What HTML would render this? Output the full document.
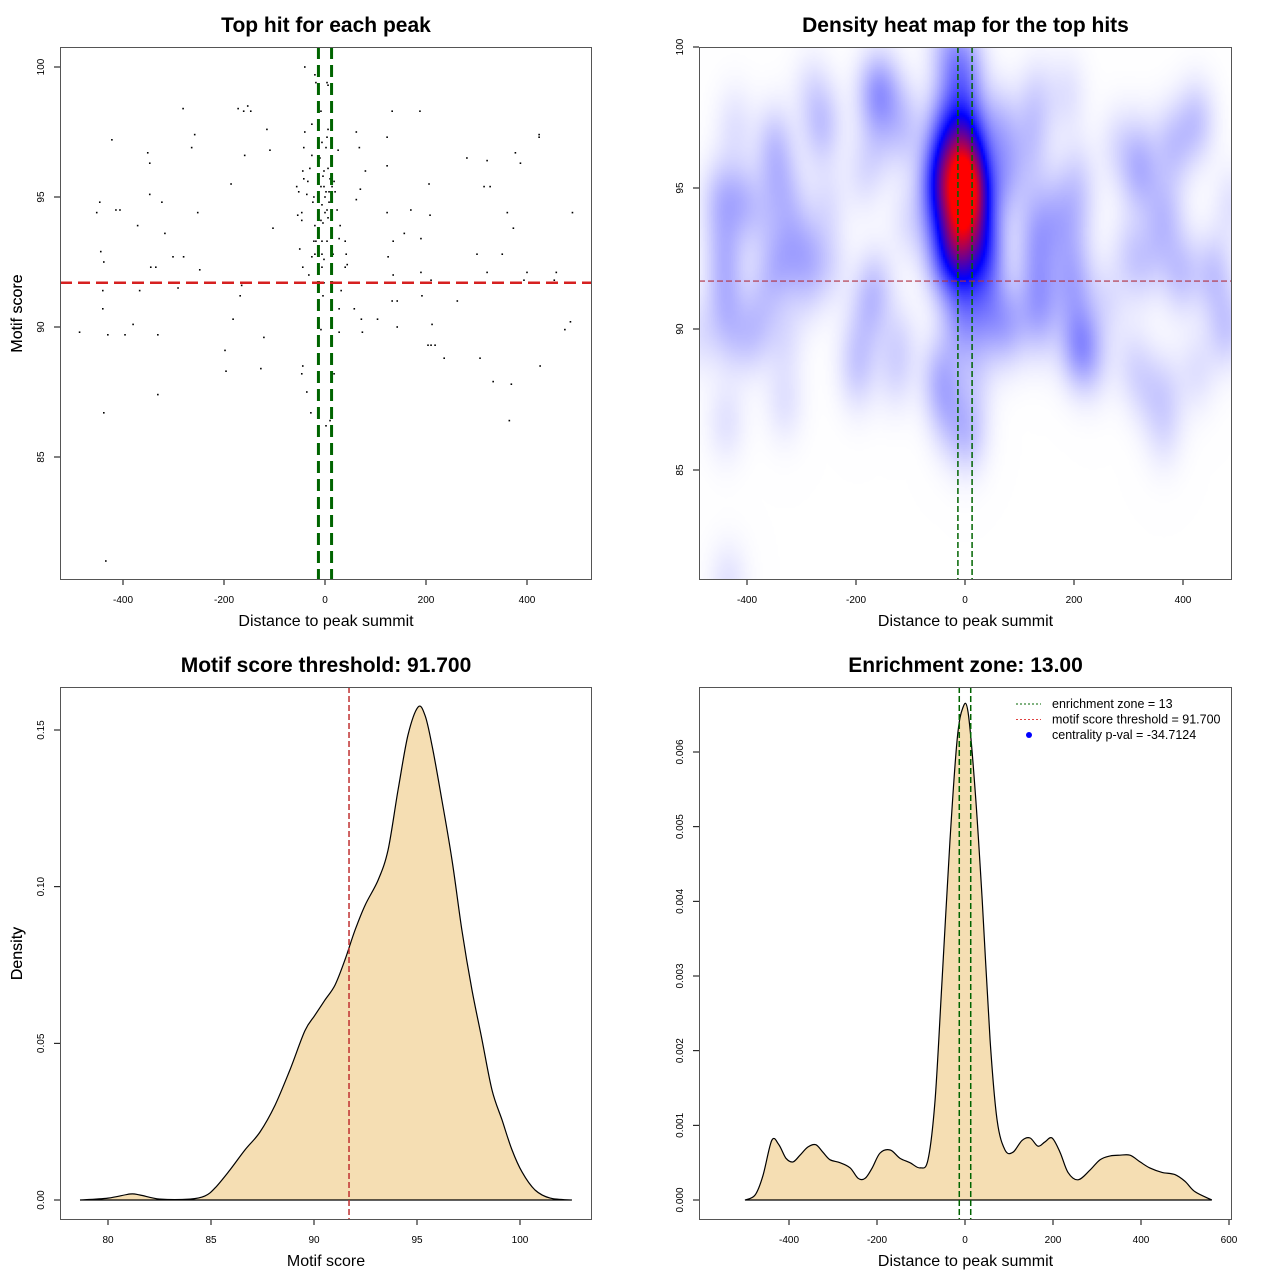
<!DOCTYPE html>
<html><head><meta charset="utf-8">
<style>
html,body{margin:0;padding:0;background:#fff;}
#wrap{position:relative;width:1280px;height:1280px;font-family:"Liberation Sans",sans-serif;}
#heat{position:absolute;left:699px;top:47px;width:533px;height:533px;}
#svg{position:absolute;left:0;top:0;}
</style></head>
<body>
<div id="wrap">
<canvas id="heat" width="533" height="533"></canvas>
<svg id="svg" width="1280" height="1280" xmlns="http://www.w3.org/2000/svg"></svg>
</div>
<script>
// ---- data ----
const hitDist = [-486,-452,-446,-444,-440,-438,-440,-438,-430,-434,-422,-414,-406,-396,-380,-371,-367,-351,-347,-347,-345,-335,-331,-331,-323,-317,-301,-291,-280,-281,-264,-258,-252,-248,-198,-196,-186,-182,-172,-168,-165,-159,-161,-153,-147,-127,-121,-115,-109,-103,
-40,-20,-18,4,6,-8,-26,6,-40,4,-6,-42,2,26,-26,-10,-44,-30,6,-2,-42,-34,-4,10,18,-56,-8,-2,14,-52,-36,2,8,20,-22,0,-24,8,-6,4,14,24,-46,-54,0,-46,-8,6,-20,-4,30,-22,-18,-6,4,-50,-20,-26,-6,-2,16,-44,-6,-32,-2,-4,32,-8,-14,-44,-46,-36,-28,10,2,18,28,40,40,44,42,
62,68,80,70,62,28,58,72,28,74,104,133,188,123,123,123,170,208,206,157,135,190,125,135,190,210,133,143,192,262,143,212,204,210,218,236,307,281,321,315,327,377,387,424,424,361,490,373,301,351,321,400,458,394,454,486,475,426,333,369,365];
const hitScore = [89.8,94.4,94.8,92.9,91.4,92.5,90.7,86.7,89.7,81.0,97.2,94.5,94.5,89.7,90.1,93.9,91.4,96.7,96.3,95.1,92.3,92.3,89.7,87.4,94.8,93.6,92.7,91.5,92.7,98.4,96.9,97.4,94.4,92.2,89.1,88.3,95.5,90.3,98.4,91.2,91.6,96.6,98.3,98.5,98.3,88.4,89.6,97.6,96.8,93.8,
100,99.7,99.4,99.4,99.3,98.3,97.8,97.6,97.5,97.3,97.1,96.9,96.9,96.8,96.6,96.5,96.0,96.1,96.1,96.0,95.7,95.6,95.8,95.7,95.6,95.4,95.4,95.4,95.4,95.2,95.1,95.2,95.2,95.2,95.0,95.0,94.8,94.8,94.7,94.5,94.5,94.5,94.4,94.3,94.4,94.1,94.1,94.2,93.9,94.0,93.9,93.3,93.3,93.3,93.3,93.0,92.8,92.7,92.8,92.6,92.8,92.3,92.3,92.0,91.7,91.2,91.4,89.9,90.2,88.5,88.2,87.5,86.7,86.4,86.2,88.2,93.4,93.3,92.3,92.4,92.8,
97.5,96.9,96.0,95.3,94.9,90.7,90.7,90.3,89.8,89.8,90.3,98.3,98.3,97.3,96.2,94.4,94.5,94.3,95.5,93.6,93.3,93.4,92.7,92.0,92.1,91.8,91.0,91.0,91.2,91.0,90.0,90.1,89.3,89.3,89.3,88.8,88.8,96.5,96.4,95.4,95.4,96.7,96.3,97.4,97.3,94.4,94.4,93.8,92.8,92.8,92.1,92.1,92.1,91.8,91.8,90.2,89.9,88.5,87.9,87.8,86.4];
const scoreX = [78.64,80.0,81.07,81.55,82.52,83.98,84.71,85.19,85.92,86.65,87.38,88.11,88.83,89.56,90.05,90.53,91.02,91.5,91.99,92.48,93.11,93.59,94.08,94.56,95.05,95.39,95.73,96.21,96.7,97.18,97.67,98.16,98.64,99.13,99.61,100.1,100.73,101.46,102.52];
const scoreDens = [0,0.0006,0.0019,0.0016,0.0003,0.0003,0.0013,0.0038,0.0096,0.016,0.0217,0.0303,0.0415,0.054,0.059,0.0638,0.0686,0.0766,0.0861,0.0941,0.1021,0.1116,0.1308,0.1483,0.1573,0.1547,0.1451,0.1276,0.1085,0.0861,0.067,0.051,0.0351,0.0255,0.016,0.0089,0.0032,0.0006,0];
const distX = [-500,-477,-459,-439,-423,-407,-391,-375,-357,-339,-323,-307,-284,-261,-243,-227,-211,-193,-170,-148,-125,-102,-84,-68,-52,-34,-18,-5,7,23,39,57,73,91,109,130,148,166,182,198,216,234,257,284,307,330,352,375,398,420,448,477,500,523,561];
const distDens = [0,0.000067,0.00033,0.0008,0.00074,0.00056,0.00051,0.0006,0.00071,0.00074,0.00064,0.00054,0.0005,0.00043,0.00029,0.00029,0.00043,0.00063,0.00067,0.00056,0.0005,0.00043,0.00054,0.00134,0.00295,0.00482,0.00616,0.00659,0.00653,0.00549,0.00402,0.00214,0.00107,0.00067,0.00064,0.0008,0.00083,0.00072,0.00078,0.00083,0.00064,0.00037,0.00027,0.0004,0.00054,0.00059,0.0006,0.0006,0.00051,0.00043,0.00037,0.00034,0.00025,0.00011,0];
const scoreThreshold = 91.7;
const zone = 13;
const ticks1X = [-400,-200,0,200,400], ticks1Y=[85,90,95,100];
const ticks3X = [80,85,90,95,100], ticks3Y=[0,0.05,0.10,0.15], ticks3YLab=["0.00","0.05","0.10","0.15"];
const ticks4X = [-400,-200,0,200,400,600], ticks4Y=[0,0.001,0.002,0.003,0.004,0.005,0.006], ticks4YLab=["0.000","0.001","0.002","0.003","0.004","0.005","0.006"];

// ---- helpers ----
const NS="http://www.w3.org/2000/svg", svg=document.getElementById('svg');
function mk(tag,attrs,parent){const e=document.createElementNS(NS,tag);for(const k in attrs)e.setAttribute(k,attrs[k]);(parent||svg).appendChild(e);return e;}
function lin(d0,d1,r0,r1){return v=>r0+(v-d0)*(r1-r0)/(d1-d0);}
function txt(s,x,y,size,opts,parent){const t=mk('text',Object.assign({x:x,y:y,'font-size':size,'text-anchor':'middle','fill':'#000'},opts||{}),parent);t.textContent=s;return t;}
function smooth(P){let d='M'+P[0][0].toFixed(1)+','+P[0][1].toFixed(1);
  for(let i=0;i<P.length-1;i++){const p0=P[i-1]||P[i],p1=P[i],p2=P[i+1],p3=P[i+2]||P[i+1];
    const c1=[p1[0]+(p2[0]-p0[0])/6,p1[1]+(p2[1]-p0[1])/6],c2=[p2[0]-(p3[0]-p1[0])/6,p2[1]-(p3[1]-p1[1])/6];
    d+=` C${c1[0].toFixed(1)},${c1[1].toFixed(1)} ${c2[0].toFixed(1)},${c2[1].toFixed(1)} ${p2[0].toFixed(1)},${p2[1].toFixed(1)}`;}
  return d;}
function panel(name,box,title,xlab,ylab,xs,ys,xt,yt,ytl){
  const g=mk('g',{});
  
  
  const t=txt(title,(box.l+box.r)/2,box.t-15,21,{'font-weight':'bold'},g);
  
  const xl=txt(xlab,(box.l+box.r)/2,box.b+46,16,{},g);
  
  const cy=(box.t+box.b)/2;
  const yl=txt(ylab,22,cy,16,{transform:`rotate(-90 22 ${cy})`},g);
  
  const xa=mk('g',{},g);
  xt.forEach(v=>{const x=xs(v);mk('line',{x1:x,x2:x,y1:box.b,y2:box.b+5,stroke:'#000'},xa);txt(String(v),x,box.b+23,10,{},xa);});
  const ya=mk('g',{},g);
  yt.forEach((v,i)=>{const y=ys(v);mk('line',{x1:box.l-6,x2:box.l,y1:y,y2:y,stroke:'#000'},ya);const lx=box.l-16;txt(ytl?ytl[i]:String(v),lx,y,10,{transform:`rotate(-90 ${lx} ${y})`},ya);});
  return g;
}
function frame(box,g){const r=mk('rect',{x:box.l+0.5,y:box.t+0.5,width:box.r-box.l-1,height:box.b-box.t-1,fill:'none',stroke:'#555'},g);}

// ---- panel 1 scatter ----
const B1={l:60,r:592,t:47,b:580};
const x1=lin(0,400,325,527), y1=lin(100,95,67,197);
const g1=panel('scatter-panel',B1,'Top hit for each peak','Distance to peak summit','Motif score',x1,y1,ticks1X,ticks1Y);
const pts=mk('g',{},g1);
hitDist.forEach((d,i)=>{const c=mk('rect',{x:x1(d)-0.8,y:y1(hitScore[i])-0.8,width:1.6,height:1.6,fill:'#000'},pts);});
[ -zone, zone].forEach(z=>{const l=mk('line',{x1:x1(z),x2:x1(z),y1:B1.t,y2:B1.b,stroke:'#006400','stroke-width':3,'stroke-dasharray':'12,6'},g1);});
{const l=mk('line',{x1:B1.l,x2:B1.r,y1:y1(scoreThreshold),y2:y1(scoreThreshold),stroke:'#d62020','stroke-width':2.5,'stroke-dasharray':'12,6'},g1);}
frame(B1,g1);

// ---- panel 2 heatmap ----
const B2={l:699,r:1232,t:47,b:580};
const x2=lin(0,200,965,1074), y2=lin(95,90,188,329);
const g2=panel('heatmap-panel',B2,'Density heat map for the top hits','Distance to peak summit','Motif score',x2,y2,[-400,-200,0,200,400],[85,90,95,100]);
(function(){
  const cv=document.getElementById('heat'),ctx=cv.getContext('2d');
  const W=533,H=533,step=2;const hx=25,hy=1.0;
  const gw=Math.ceil(W/step),gh=Math.ceil(H/step);const D=new Float32Array(gw*gh);let mx=0;
  for(let j=0;j<gh;j++){const vy=95+(B2.t+j*step+1-188)/(-28.2);
    for(let i=0;i<gw;i++){const vx=(B2.l+i*step+1-965)/0.545;let s=0;
      for(let k=0;k<hitDist.length;k++){const dx=(vx-hitDist[k])/hx,dy=(vy-hitScore[k])/hy;const q=dx*dx+dy*dy;if(q<14)s+=Math.exp(-0.5*q);}
      D[j*gw+i]=s;if(s>mx)mx=s;}}
  for(let j=0;j<gh;j++)for(let i=0;i<gw;i++){let t=D[j*gw+i]/mx;let r,g,b;
    if(t<0.42){const u=Math.min(1,t/0.42);r=255*(1-u);g=255*(1-u);b=255;}else{const u=Math.min(1,(t-0.42)/0.4);r=255*u;g=0;b=255*(1-u);}
    ctx.fillStyle=`rgb(${r|0},${g|0},${b|0})`;ctx.fillRect(i*step,j*step,step,step);}
})();
[-zone,zone].forEach(z=>{const l=mk('line',{x1:x2(z),x2:x2(z),y1:B2.t,y2:B2.b,stroke:'#006400','stroke-width':1.5,'stroke-dasharray':'6,3'},g2);});
{const l=mk('line',{x1:B2.l,x2:B2.r,y1:y2(scoreThreshold),y2:y2(scoreThreshold),stroke:'#b03040','stroke-width':1.2,'stroke-dasharray':'6,3'},g2);}
frame(B2,g2);

// ---- panel 3 score density ----
const B3={l:60,r:592,t:687,b:1220};
const x3=lin(80,100,108,520), y3=lin(0,0.15,1200,730);
const g3=panel('score-density-panel',B3,'Motif score threshold: 91.700','Motif score','Density',x3,y3,ticks3X,ticks3Y,ticks3YLab);
{const P=scoreX.map((v,i)=>[x3(v),y3(scoreDens[i])]);
 const p=mk('path',{d:smooth(P)+' Z',fill:'#F5DEB3',stroke:'#000','stroke-width':1.2},g3);}
{const l=mk('line',{x1:x3(scoreThreshold),x2:x3(scoreThreshold),y1:B3.t,y2:B3.b,stroke:'#c03030','stroke-width':1.5,'stroke-dasharray':'6,3'},g3);}
frame(B3,g3);

// ---- panel 4 distance density ----
const B4={l:699,r:1232,t:687,b:1220};
const x4=lin(0,200,965,1053), y4=lin(0,0.006,1200,752);
const g4=panel('distance-density-panel',B4,'Enrichment zone: 13.00','Distance to peak summit','Density',x4,y4,ticks4X,ticks4Y,ticks4YLab);
{const P=distX.map((v,i)=>[x4(v),y4(distDens[i])]);
 const p=mk('path',{d:smooth(P)+' Z',fill:'#F5DEB3',stroke:'#000','stroke-width':1.2},g4);}
[-zone,zone].forEach(z=>{const l=mk('line',{x1:x4(z),x2:x4(z),y1:B4.t,y2:B4.b,stroke:'#006400','stroke-width':1.5,'stroke-dasharray':'6,3'},g4);});
frame(B4,g4);
// legend
const lg=mk('g',{},g4);
const items=[['enrichment zone = 13','line','#006400'],['motif score threshold = 91.700','line','#e04040'],['centrality p-val = -34.7124','dot','#0000ff']];
items.forEach((it,i)=>{const y=704+i*15.5;const e=mk('g',{},lg);
  if(it[1]==='line')mk('line',{x1:1016,x2:1041,y1:y,y2:y,stroke:it[2],'stroke-width':1,'stroke-dasharray':'2,2'},e);else mk('circle',{cx:1029,cy:y,r:3,fill:it[2]},e);
  txt(it[0],1052,y+4,12.5,{'text-anchor':'start'},e);});
</script>
</body></html>
